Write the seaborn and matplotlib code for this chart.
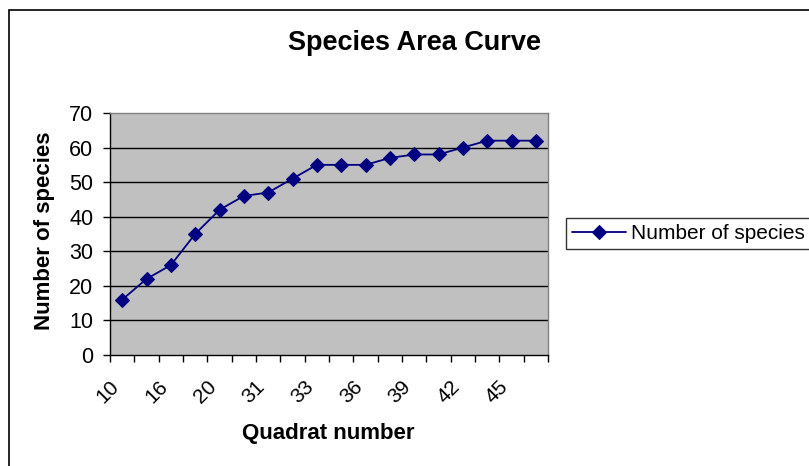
import numpy as np
import matplotlib
matplotlib.use("Agg")
import matplotlib.pyplot as plt
import matplotlib.patches as mpatches
import seaborn as sns

# Data (18 quadrats, every second one labelled)
species = [16, 22, 26, 35, 42, 46, 47, 51, 55, 55, 55, 57, 58, 58, 60, 62, 62, 62]
shown_labels = ["10", "16", "20", "31", "33", "36", "39", "42", "45"]
yticks = [0, 10, 20, 30, 40, 50, 60, 70]

W, H = 809, 466
sns.set_style("white")
plt.rcParams["font.family"] = ["Liberation Sans", "DejaVu Sans"]
plt.rcParams["text.color"] = "black"
plt.rcParams["xtick.color"] = "black"
plt.rcParams["ytick.color"] = "black"

fig = plt.figure(figsize=(W / 100, H / 100), dpi=100)
fig.patch.set_facecolor("white")

# outer chart frame (cut off on the right and bottom)
frame = mpatches.Rectangle((9 / W, -0.1), 1.2, 1 - 10 / H + 0.1, transform=fig.transFigure,
                           fill=False, edgecolor="black", linewidth=1.2)
fig.patches.append(frame)

left, right, top, bottom = 110, 548, 113, 355
ax = fig.add_axes([left / W, 1 - bottom / H, (right - left) / W, (bottom - top) / H])
ax.set_facecolor("#c0c0c0")

pos = np.arange(len(species))
sns.lineplot(x=pos, y=species, ax=ax, color="#000080", marker="D", markersize=7.5,
             markeredgecolor="#000080", linewidth=1.3, label="Number of species", legend=False)

ax.set_xlim(-0.5, len(species) - 0.5)
ax.set_ylim(0, 70)
ax.set_yticks(yticks)
ax.set_yticklabels([str(v) for v in yticks], fontsize=15.5)
for v in yticks[1:-1]:
    ax.axhline(v, color="black", linewidth=1, zorder=0.5)

# category boundary ticks + labels on every second category
ax.set_xticks(np.arange(-0.5, len(species)), minor=False)
ax.set_xticklabels([])
ax.tick_params(axis="x", length=5, width=1, color="black", direction="out", bottom=True)
ax.tick_params(axis="y", length=5, width=1, color="black", direction="out", left=True, pad=7)
for i, lab in enumerate(shown_labels):
    ax.text(2 * i - 0.25, -0.12, lab, transform=ax.get_xaxis_transform(), rotation=45,
            ha="right", va="center", rotation_mode="anchor", fontsize=15)

for s in ["top", "right"]:
    ax.spines[s].set_color("#808080")
    ax.spines[s].set_linewidth(1)
for s in ["left", "bottom"]:
    ax.spines[s].set_color("black")
    ax.spines[s].set_linewidth(1)

fig.text(415 / W, 1 - 43 / H, "Species Area Curve", ha="center", va="center",
         fontsize=19.5, fontweight="bold")
fig.text(328 / W, 1 - 433 / H, "Quadrat number", ha="center", va="center",
         fontsize=16, fontweight="bold")
fig.text(45 / W, 1 - 231 / H, "Number of species", ha="center", va="center",
         rotation=90, fontsize=16, fontweight="bold")

handles, labels = ax.get_legend_handles_labels()
leg = fig.legend(handles, labels, loc="center left", bbox_to_anchor=(566 / W, 1 - 233.5 / H),
                 frameon=True, fancybox=False, edgecolor="black", fontsize=15,
                 handlelength=2.6, borderpad=0.3, handletextpad=0.2, borderaxespad=0)
leg.get_frame().set_linewidth(1)

fig.savefig("out.png", dpi=100)
